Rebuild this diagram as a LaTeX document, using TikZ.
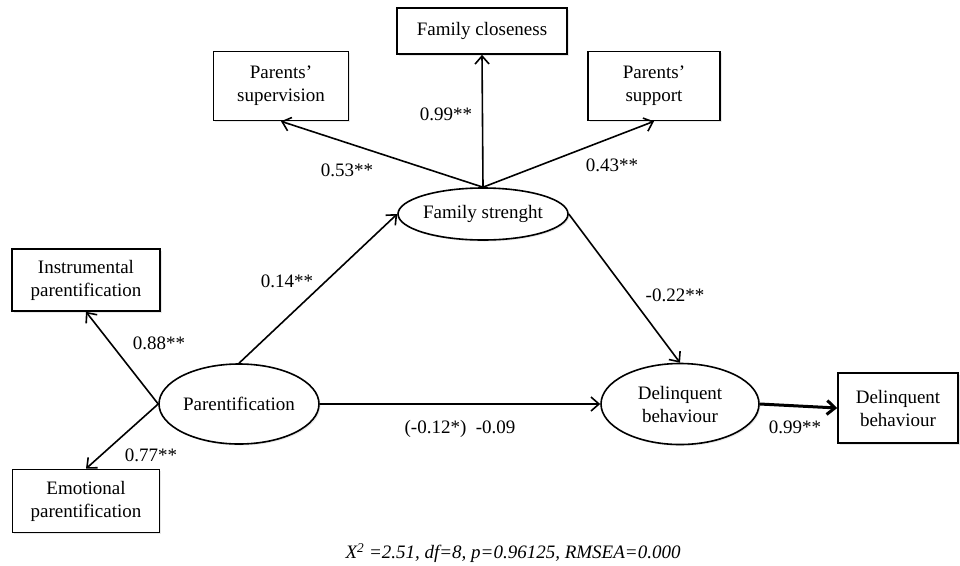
\documentclass[tikz,border=0pt]{standalone}
\usepackage{fontspec}
\setmainfont{Liberation Serif}
\usetikzlibrary{shapes.geometric,arrows.meta,shadows}
\begin{document}
\begin{tikzpicture}[x=1pt,y=-1pt,line width=1.6pt,
  every node/.style={font=\fontsize{19}{23}\selectfont},
  box/.style={draw,rectangle,fill=white,align=center,inner sep=0pt,
    drop shadow={fill=black!18,shadow xshift=1.5pt,shadow yshift=-1.5pt}},
  latent/.style={draw,ellipse,fill=white,align=center,inner sep=0pt,
    drop shadow={fill=black!18,shadow xshift=1.5pt,shadow yshift=-1.5pt}},
  path/.style={-{Straight Barb[length=8pt,width=14pt]}},
  thickpath/.style={line width=3pt,-{Straight Barb[length=8pt,width=14pt]}}]
  \useasboundingbox (0,0) rectangle (960,565);
  % latent variables
  \node [latent,minimum width=170pt,minimum height=52pt] (fs) at (483,214) {Family strenght};
  \node [latent,minimum width=160pt,minimum height=80pt] (par) at (239,404) {Parentification};
  \node [latent,minimum width=158pt,minimum height=81pt] (db) at (680,404) {Delinquent\\behaviour};
  % indicators
  \node [box,minimum width=170pt,minimum height=46pt] (fc) at (482,31) {Family closeness};
  \node [box,minimum width=135pt,minimum height=69pt] (ps) at (281,86) {Parents'\\supervision};
  \node [box,minimum width=132pt,minimum height=69pt] (pp) at (654,86) {Parents'\\support};
  \node [box,minimum width=148pt,minimum height=62pt] (ip) at (86,280) {Instrumental\\parentification};
  \node [box,minimum width=147pt,minimum height=63pt] (ep) at (86,501) {Emotional\\parentification};
  \node [box,minimum width=120pt,minimum height=70pt] (dbo) at (898,408) {Delinquent\\behaviour};
  % paths
  \draw [path] (fs.north) -- (fc.south);
  \draw [path] (fs.north) -- (ps.south);
  \draw [path] (fs.north) -- (pp.south);
  \draw [path] (par.west) -- (ip.south);
  \draw [path] (par.west) -- (ep.north);
  \draw [path] (par.north) -- (fs.west);
  \draw [path] (fs.east) -- (db.north);
  \draw [path] (par.east) -- (db.west);
  \draw [thickpath] (db.east) -- (dbo.west);
  % coefficients
  \node (c53) at (347,170) {0.53**};
  \node (c99a) at (446,114) {0.99**};
  \node (c43) at (612,165) {0.43**};
  \node (c14) at (287,281) {0.14**};
  \node (c22) at (675,295) {-0.22**};
  \node (c88) at (159,343) {0.88**};
  \node (c77) at (151,455) {0.77**};
  \node (c12) at (460,429) {(-0.12*)\ \ -0.09};
  \node (c99b) at (795,427) {0.99**};
  \node (fit) at (513,553) {\itshape X\textsuperscript{2} =2.51, df=8, p=0.96125, RMSEA=0.000};
\end{tikzpicture}
\end{document}
